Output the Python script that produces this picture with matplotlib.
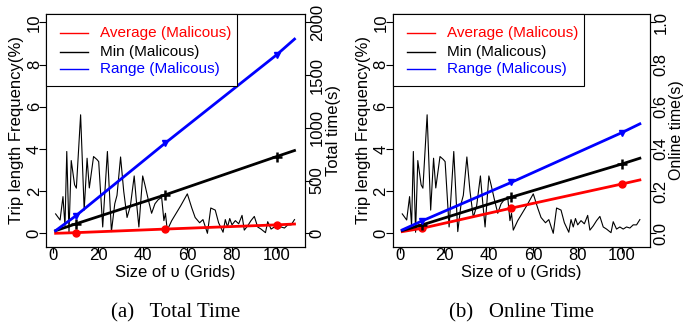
import matplotlib
matplotlib.use("Agg")
import matplotlib.pyplot as plt
from matplotlib.patches import Rectangle
from matplotlib.lines import Line2D

plt.rcParams['font.family'] = ['Liberation Sans', 'DejaVu Sans']

# Trip length frequency (%) against grid size
freq_x = [1, 3, 4.3, 5.2, 6, 7, 8, 9.5, 10.3, 12.2, 13.8, 15.1, 16.1, 18, 19.5,
          20.3, 22.1, 24.2, 26, 27.5, 28.5, 30.1, 31.5, 33, 34.5, 36.2, 37.2,
          38.3, 40, 41, 42.5, 44, 45.5, 47, 48.5, 49.5, 50.2, 51, 53, 55, 57,
          60, 62, 63.5, 65.5, 67, 69, 70.5, 72.5, 74, 76, 77, 78, 79, 80, 81.5,
          83, 84.5, 85.5, 87, 88.5, 90, 91.5, 93, 95, 96, 97.5, 99, 100.5, 102,
          103.5, 105, 106.5, 108]
freq_y = [0.92, 0.63, 1.74, 0.35, 3.88, 0.05, 3.45, 2.3, 2.14, 5.62, 1.1, 3.56,
          2.15, 3.64, 3.5, 3.4, 0.3, 3.88, 0.08, 1.4, 1.8, 3.62, 2.0, 0.75, 1.3,
          2.72, 1.5, 0.3, 2.72, 2.3, 1.6, 0.95, 1.4, 1.6, 1.7, 0.6, 0.95, 0.15,
          0.6, 0.95, 1.3, 1.87, 1.2, 0.75, 0.5, 0.65, 0.0, 1.2, 1.1, 0.5, 0.05,
          0.65, 0.3, 0.7, 0.4, 0.6, 0.45, 0.85, 0.15, 0.35, 0.6, 0.8, 0.3, 0.2,
          0.03, 0.55, 0.2, 0.3, 0.2, 0.3, 0.25, 0.4, 0.4, 0.65]

# Grid sizes at which the running times are reported
sizes = [1, 10, 50, 100, 108]

# Total time (s)
total_avg = [0, 6, 40, 80, 88]
total_min = [25, 89, 364, 728, 785]
total_rng = [25, 165, 854, 1693, 1842]

# Online time (s)
online_avg = [0.008, 0.024, 0.119, 0.234, 0.253]
online_min = [0.013, 0.040, 0.171, 0.329, 0.356]
online_rng = [0.016, 0.059, 0.241, 0.478, 0.519]

legend_labels = ['Average (Malicous)', 'Min (Malicous)', 'Range (Malicous)']
series_colors = ['red', 'black', 'blue']
series_markers = ['o', '+', 'v']

W, H = 683, 331
fig = plt.figure(figsize=(W / 100, H / 100), dpi=100)


def rect_px(x0, y0, x1, y1):
    return [x0 / W, 1 - y1 / H, (x1 - x0) / W, (y1 - y0) / H]


def panel(x0, x1, series, rscale, rticks, rticklabels, rlabel, rstyle,
          caption):
    ax = fig.add_axes(rect_px(x0, 14, x1, 247))
    ax.plot(freq_x, freq_y, color='black', lw=0.8)
    ax.set_xlim(-3.3, 112.7)
    ax.set_ylim(-0.65, 10.4)
    ax.set_xticks(range(0, 101, 20))
    ax.set_yticks(range(0, 11, 2))
    ax.tick_params(direction='out', length=5, width=0.8, labelsize=12)
    ax.tick_params(axis='x', length=4, pad=-3)
    ax.tick_params(axis='y', pad=-2)
    for lab in ax.get_yticklabels():
        lab.set_rotation(90)
        lab.set_va('center')
    ax.set_ylabel('Trip length Frequency(%)', fontsize=12, labelpad=2)
    for sp in ax.spines.values():
        sp.set_linewidth(0.8)

    ax2 = ax.twinx()
    ax2.set_ylim(-0.65 * rscale, 10.4 * rscale)
    for vals, c, m in zip(series, series_colors, series_markers):
        ms = 7 if m == '+' else 5
        ax2.plot(sizes, vals, color=c, lw=2, marker=m, markevery=[1, 2, 3],
                 ms=ms, mew=1.8 if m == '+' else 1)
    ax2.set_yticks(rticks)
    ax2.set_yticklabels(rticklabels)
    tick_len, tick_pad, lab_size, lab_pad = rstyle
    ax2.tick_params(direction='out', length=tick_len, width=0.8,
                    labelsize=12, pad=tick_pad)
    for lab in ax2.get_yticklabels():
        lab.set_rotation(90)
        lab.set_va('center')
    ax2.set_ylabel(rlabel, fontsize=lab_size, labelpad=lab_pad)

    # legend box in the upper-left corner
    bw = 191 / (x1 - x0)
    bh = 72 / 233
    ax2.add_patch(Rectangle((0, 1 - bh), bw, bh, transform=ax2.transAxes,
                            facecolor='white', edgecolor='black', lw=0.8,
                            zorder=5, clip_on=False))
    rows = [1 - 19 / 233, 1 - 38 / 233, 1 - 55 / 233]
    for yy, lab, c in zip(rows, legend_labels, series_colors):
        ax2.add_line(Line2D([14 / (x1 - x0), 42 / (x1 - x0)], [yy, yy],
                            transform=ax2.transAxes, color=c, lw=1, zorder=6))
        ax2.text(54 / (x1 - x0), yy, lab, transform=ax2.transAxes, color=c,
                 fontsize=11, va='center', ha='left', zorder=6)

    cx = (x0 + x1) / 2
    fig.text(cx / W, 1 - 273 / H, 'Size of \u03c5 (Grids)', fontsize=12,
             ha='center', va='center')
    fig.text(cx / W, 1 - 313 / H, caption, fontsize=15, ha='center',
             va='center', family='Liberation Serif')
    return ax, ax2


panel(46, 305, [total_avg, total_min, total_rng], 200,
      [0, 500, 1000, 1500, 2000], ['0', '500', '1000', '1500', '2000'],
      'Total time(s)', (5, -1.5, 12, 1), '(a)   Total Time')
panel(392.7, 650.3, [online_avg, online_min, online_rng], 0.1,
      [0, 0.2, 0.4, 0.6, 0.8, 1.0], ['0.0', '0.2', '0.4', '0.6', '0.8', '1.0'],
      'Online time(s)', (4, -1.5, 11.5, 0), '(b)   Online Time')

fig.savefig('out.png', dpi=100)
